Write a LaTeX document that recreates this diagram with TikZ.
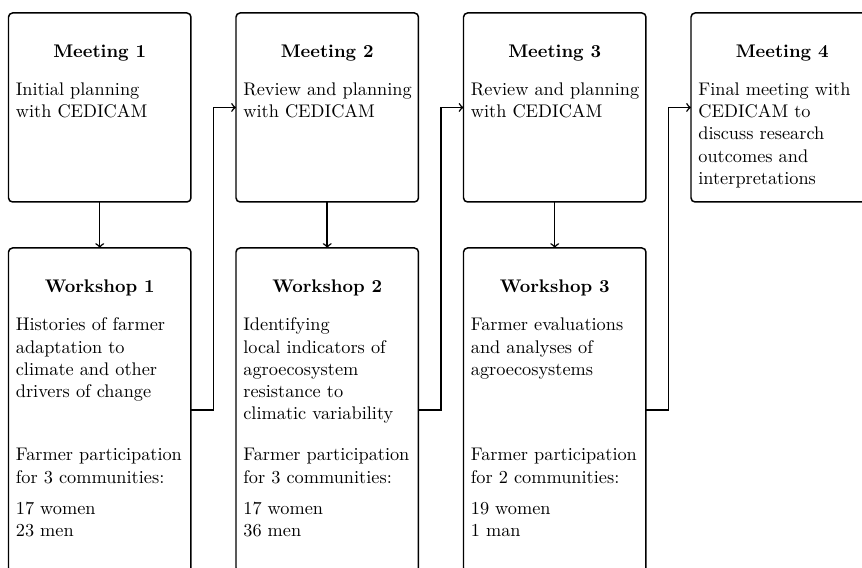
\documentclass[tikz,border=0pt]{standalone}
\usetikzlibrary{calc}
\begin{document}
\begin{tikzpicture}[x=0.5376pt, y=-0.5376pt,
  panel/.style={draw, line width=0.8pt, rounded corners=2.2pt, inner sep=0pt, outer sep=0pt, anchor=north west, minimum width=98.1pt},
  mpanel/.style={panel, minimum height=101.6pt},
  wpanel/.style={panel, minimum height=174.2pt},
  ttl/.style={anchor=base, inner sep=0pt, font=\fontsize{9.83pt}{12pt}\selectfont\bfseries},
  txt/.style={anchor=north west, inner sep=0pt, align=left, font=\fontsize{9.83pt}{12pt}\selectfont},
  conn/.style={->, line width=0.8pt}
]
\useasboundingbox (0,0) rectangle (862,568);
\clip (0,0) rectangle (862,568);

% Meeting boxes
\node[mpanel] (m1) at (8.5,13) {};
\node[mpanel] (m2) at (236,13) {};
\node[mpanel] (m3) at (463.5,13) {};
\node[mpanel] (m4) at (691,13) {};
% Workshop boxes
\node[wpanel] (w1) at (8.5,248) {};
\node[wpanel] (w2) at (236,248) {};
\node[wpanel] (w3) at (463.5,248) {};

% Meeting texts
\node[ttl] (m1t) at (99.75,58) {Meeting 1};
\node[ttl] (m2t) at (327.25,58) {Meeting 2};
\node[ttl] (m3t) at (554.75,58) {Meeting 3};
\node[ttl] (m4t) at (782.25,58) {Meeting 4};
\node[txt] (m1d) at (15.5,79.2) {\strut Initial planning\\with CEDICAM};
\node[txt] (m2d) at (243,79.2) {\strut Review and planning\\with CEDICAM};
\node[txt] (m3d) at (470.5,79.2) {\strut Review and planning\\with CEDICAM};
\node[txt] (m4d) at (698,79.2) {\strut Final meeting with\\CEDICAM to\\discuss research\\outcomes and\\interpretations};

% Workshop texts
\node[ttl] (w1t) at (99.75,292.5) {Workshop 1};
\node[ttl] (w2t) at (327.25,292.5) {Workshop 2};
\node[ttl] (w3t) at (554.75,292.5) {Workshop 3};
\node[txt] (w1d) at (15.5,314.7) {\strut Histories of farmer\\adaptation to\\climate and other\\drivers of change};
\node[txt] (w2d) at (243,314.7) {\strut Identifying\\local indicators of\\agroecosystem\\resistance to\\climatic variability};
\node[txt] (w3d) at (470.5,314.7) {\strut Farmer evaluations\\and analyses of\\agroecosystems};
\node[txt] (w1p) at (15.5,444.7) {\strut Farmer participation\\for 3 communities:};
\node[txt] (w2p) at (243,444.7) {\strut Farmer participation\\for 3 communities:};
\node[txt] (w3p) at (470.5,444.7) {\strut Farmer participation\\for 2 communities:};
\node[txt] (w1c) at (15.5,498.2) {\strut 17 women\\23 men};
\node[txt] (w2c) at (243,498.2) {\strut 17 women\\36 men};
\node[txt] (w3c) at (470.5,498.2) {\strut 19 women\\1 man};

% Connectors
\draw[conn] (m1.south) -- (w1.north);
\draw[conn] (m2.south) -- (w2.north);
\draw[conn] (m3.south) -- (w3.north);
\draw[conn] (w1.east) -- ++(22.5,0) |- (m2.west);
\draw[conn] (w2.east) -- ++(22.5,0) |- (m3.west);
\draw[conn] (w3.east) -- ++(22.5,0) |- (m4.west);
\end{tikzpicture}
\end{document}
